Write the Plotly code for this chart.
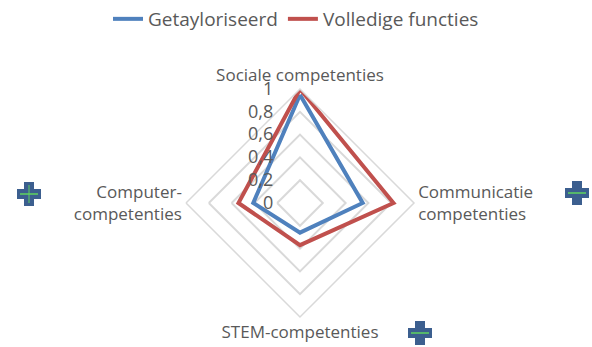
import plotly.graph_objects as go

# data
categories = ["Sociale competenties", "Communicatie competenties",
              "STEM-competenties", "Computer-competenties"]
tick_labels = ["Sociale competenties", "Communicatie<br>competenties",
               "STEM-competenties", "Computer-<br>competenties"]
getayloriseerd = [0.95, 0.55, 0.26, 0.41]
volledige = [1.0, 0.82, 0.37, 0.54]
radial_ticks = [0, 0.2, 0.4, 0.6, 0.8, 1]

BLUE = "#4F81BD"
RED = "#C0504D"
TXT = "#595959"
GRID = "#D9D9D9"
W, H = 592, 347

fig = go.Figure()
for name, vals, col in [("Getayloriseerd", getayloriseerd, BLUE),
                        ("Volledige functies", volledige, RED)]:
    fig.add_trace(go.Scatterpolar(
        r=vals + vals[:1], theta=categories + categories[:1],
        mode="lines", name=name, line=dict(color=col, width=4),
    ))

fig.update_layout(
    width=W, height=H,
    margin=dict(l=0, r=0, t=0, b=0),
    paper_bgcolor="white",
    separators=",.",
    font=dict(family="Open Sans, Liberation Sans, sans-serif", size=18, color=TXT),
    legend=dict(orientation="h", x=0.5, xanchor="center", y=1.0, yanchor="top",
                font=dict(size=19, color=TXT)),
    polar=dict(
        domain=dict(x=[0.3142, 0.6993], y=[0.0865, 0.7435]),
        bgcolor="white",
        gridshape="linear",
        radialaxis=dict(range=[0, 1], tickvals=radial_ticks, angle=90,
                        tickangle=90, side="counterclockwise",
                        showline=False, ticks="outside", ticklen=20,
                        tickcolor="rgba(0,0,0,0)",
                        gridcolor=GRID, gridwidth=1.5,
                        tickfont=dict(size=18, color=TXT)),
        angularaxis=dict(rotation=90, direction="clockwise",
                         tickvals=categories, ticktext=tick_labels,
                         showgrid=False, ticks="", linecolor=GRID, linewidth=1.5,
                         tickfont=dict(size=17, color=TXT)),
    ),
)

# decorative blue crosses seen in the reference
def cross(cx, cy, green_vertical):
    s, t = 12, 5
    for x0, x1, y0, y1 in [(cx - s, cx + s, cy - t, cy + t), (cx - t, cx + t, cy - s, cy + s)]:
        fig.add_shape(type="rect", xref="paper", yref="paper",
                      x0=x0 / W, x1=x1 / W, y0=1 - y1 / H, y1=1 - y0 / H,
                      fillcolor="#3C5F8F", line=dict(width=0))
    fig.add_shape(type="line", xref="paper", yref="paper",
                  x0=(cx - 9) / W, x1=(cx + 9) / W, y0=1 - cy / H, y1=1 - cy / H,
                  line=dict(color="#5FD35F", width=1.5))
    if green_vertical:
        fig.add_shape(type="line", xref="paper", yref="paper",
                      x0=cx / W, x1=cx / W, y0=1 - (cy - 9) / H, y1=1 - (cy + 9) / H,
                      line=dict(color="#5FD35F", width=1))

cross(29, 194, True)
cross(577, 193, False)
cross(420, 333, False)

fig.write_html("out.html", config={"displayModeBar": False},
               post_script="document.body.style.margin='0';document.body.style.overflow='hidden';")
